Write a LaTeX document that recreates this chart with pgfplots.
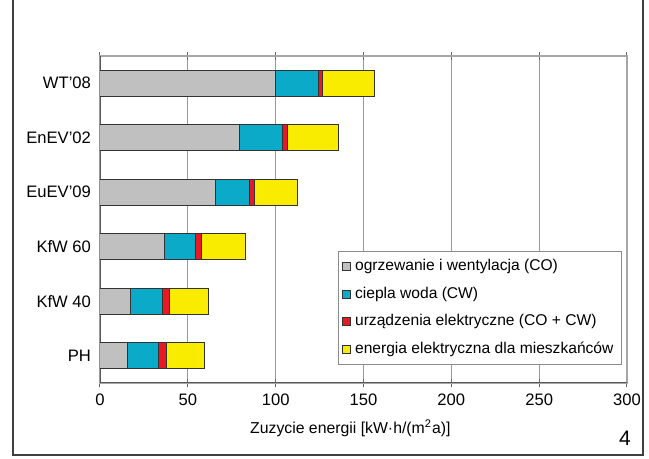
\documentclass[border=0pt]{standalone}
\usepackage{pgfplots}
\pgfplotsset{compat=1.18}
\usepackage{fontspec}
\setmainfont{Liberation Sans}
\definecolor{cgrey}{RGB}{192,192,192}
\definecolor{cblue}{RGB}{10,170,200}
\definecolor{cred}{RGB}{232,25,35}
\definecolor{cyel}{RGB}{250,236,0}
\begin{document}
\begin{tikzpicture}[x=1pt,y=1pt]
\useasboundingbox (0,0) rectangle (324.5,229.5);
\draw[line width=0.8pt, black!75] (6.5,229.5) -- (6.5,2) -- (321.5,2) -- (321.5,229.5);
\begin{axis}[at={(50pt,38pt)}, anchor=south west, scale only axis,
  width=263.5pt, height=163.5pt,
  xbar stacked, bar width=13pt,
  xmin=0, xmax=300, ymin=-0.5, ymax=5.5,
  ytick={0,...,5}, yticklabels={PH,KfW 40,KfW 60,EuEV'09,EnEV'02,WT'08},
  xtick={0,50,...,300},
  xmajorgrids, grid style={black!40, line width=0.5pt},
  axis line style={black!35, line width=0.6pt},
  ytick style={draw=none},
  xtick style={black!60, line width=0.5pt},
  xtick align=center, major tick length=4pt,
  tick label style={font=\fontsize{8.3}{10}\selectfont},
  /pgf/number format/assume math mode=true,
  yticklabel style={xshift=-1pt},
  xlabel={Zuzycie energii [kW·h/(m\textsuperscript{2}a)]},
  xlabel style={font=\fontsize{7.9}{9.5}\selectfont, at={(axis description cs:0.475,-0.138)}, anchor=center},
  every axis plot/.append style={draw=black!80, line width=0.5pt},
  legend style={at={(axis description cs:0.9905,0.055)}, anchor=south east,
    draw=black!45, line width=0.5pt, font=\fontsize{7.8}{9.4}\selectfont,
    row sep=2.6pt, inner sep=2pt, cells={anchor=west}},
  legend image code/.code={\draw[#1, line width=0.4pt] (0pt,-2pt) rectangle (4pt,2pt);},
]
\addplot[fill=cgrey] coordinates {(15.5,0) (17.2,1) (36.7,2) (65.5,3) (79.5,4) (100,5)};
\addplot[fill=cblue] coordinates {(17.8,0) (18.4,1) (17.5,2) (19.7,3) (24.5,4) (24.5,5)};
\addplot[fill=cred] coordinates {(4.5,0) (4.2,1) (3.8,2) (2.5,3) (2.5,4) (2.0,5)};
\addplot[fill=cyel] coordinates {(21.9,0) (21.7,1) (24.6,2) (24.5,3) (29.5,4) (30.0,5)};
\legend{ogrzewanie i wentylacja (CO), ciepla woda (CW), urządzenia elektryczne (CO + CW), energia elektryczna dla mieszkańców}
\draw[black!65, line width=0.6pt] (rel axis cs:0,1) -- (rel axis cs:0,0) -- (rel axis cs:1,0);
\end{axis}
\node[font=\fontsize{10.5}{12}\selectfont] at (312.5,10.5) {4};
\end{tikzpicture}
\end{document}
